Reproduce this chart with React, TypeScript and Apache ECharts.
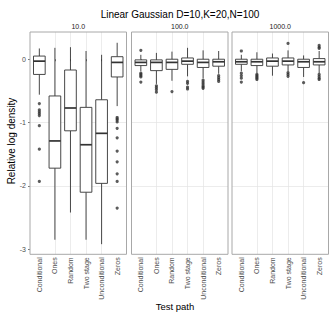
import React, { useEffect, useRef } from "react";
import * as echarts from "echarts";

const titleText = "Linear Gaussian D=10,K=20,N=100";
const xTitle = "Test path";
const yTitle = "Relative log density";
const categories = ["Conditional", "Ones", "Random", "Two stage", "Unconditional", "Zeros"];
const panelLabels = ["10.0", "100.0", "1000.0"];
const yTicks = [-3, -2, -1, 0];
const xTicks = [1, 2, 3, 4, 5, 6];

// [lower whisker, Q1, median, Q3, upper whisker]
const boxes10 = [
  [-0.56, -0.24, -0.03, 0.05, 0.17],
  [-2.85, -1.72, -1.29, -0.58, 0.18],
  [-2.42, -1.13, -0.77, -0.17, 0.19],
  [-2.85, -2.1, -1.35, -0.76, 0.13],
  [-2.92, -1.96, -1.17, -0.64, 0.07],
  [-0.74, -0.28, -0.05, 0.04, 0.26],
];
const outliers10 = [
  [-0.7, -0.8, -0.83, -0.86, -0.89, -1.05, -1.42, -1.93],
  [],
  [],
  [],
  [],
  [-0.92, -0.94, -0.96, -0.99, -1.09, -1.24, -1.45, -1.62, -1.81, -1.93, -2.35],
];
const boxes100 = [
  [-0.19, -0.1, -0.05, -0.01, 0.07],
  [-0.39, -0.18, -0.05, -0.01, 0.1],
  [-0.34, -0.16, -0.05, 0.0, 0.12],
  [-0.27, -0.08, -0.03, 0.02, 0.18],
  [-0.3, -0.13, -0.05, 0.0, 0.14],
  [-0.23, -0.11, -0.04, 0.0, 0.13],
];
const outliers100 = [
  [0.14, -0.22, -0.24, -0.26, -0.28, -0.36],
  [-0.42, -0.45, -0.48, -0.52],
  [-0.51],
  [-0.35, -0.38, -0.44, -0.47],
  [-0.33, -0.36, -0.39, -0.42, -0.44, -0.46],
  [-0.26, -0.29, -0.32, -0.35],
];
const boxes1000 = [
  [-0.19, -0.08, -0.04, 0.0, 0.07],
  [-0.22, -0.1, -0.04, 0.0, 0.11],
  [-0.26, -0.11, -0.03, 0.02, 0.09],
  [-0.19, -0.09, -0.03, 0.02, 0.14],
  [-0.28, -0.13, -0.04, 0.0, 0.06],
  [-0.22, -0.09, -0.04, 0.01, 0.13],
];
const outliers1000 = [
  [0.13, -0.22, -0.26, -0.3, -0.36],
  [-0.24, -0.26, -0.28, -0.3, -0.32],
  [],
  [0.25, -0.21, -0.24, -0.27],
  [-0.37],
  [0.17, 0.19, 0.22, -0.24, -0.27, -0.3, -0.32],
];

const panelBoxes = [boxes10, boxes100, boxes1000];
const panelOutliers = [outliers10, outliers100, outliers1000];

const W = 335;
const H = 318;
const panelLeft = [30, 131.5, 232];
const panelWidth = 96.5;
const panelTop = 32;
const panelHeight = 222.3;
const Y_MIN = -3.08;
const Y_MAX = 0.43;
const X_MIN = 0.4;
const X_MAX = 6.6;
const FONT = "Liberation Sans, Arial, Helvetica, sans-serif";
const BOX_COLOR = "#333333";
const GRID_COLOR = "#e4e4e4";

export default function App() {
  const ref = useRef<HTMLDivElement>(null);

  useEffect(() => {
    document.body.style.margin = "0";
    if (!ref.current) return;
    const chart = echarts.init(ref.current, null, { renderer: "svg" });

    const grids = panelLeft.map((l) => ({
      left: l,
      top: panelTop,
      width: panelWidth,
      height: panelHeight,
      show: false,
      containLabel: false,
      outerBoundsMode: "none",
    }));

    const xAxes = panelLeft.map((_, i) => ({
      type: "value",
      gridIndex: i,
      min: X_MIN,
      max: X_MAX,
      axisLine: { show: false },
      axisTick: {
        show: true,
        customValues: xTicks,
        length: 2,
        lineStyle: { color: "#555", width: 0.8 },
      },
      axisLabel: {
        customValues: xTicks,
        formatter: (v: number) => categories[Math.round(v) - 1] ?? "",
        rotate: 90,
        fontSize: 7,
        color: "#4d4d4d",
        margin: 3,
        fontFamily: FONT,
      },
      splitLine: {
        show: true,
        showMinLine: false,
        showMaxLine: false,
        lineStyle: { color: GRID_COLOR, width: 0.7 },
      },
    }));

    const yAxes = panelLeft.map((_, i) => ({
      type: "value",
      gridIndex: i,
      min: Y_MIN,
      max: Y_MAX,
      splitNumber: 7,
      axisLine: { show: false },
      axisTick: {
        show: i === 0,
        customValues: yTicks,
        length: 2,
        lineStyle: { color: "#555", width: 0.8 },
      },
      axisLabel: {
        show: i === 0,
        customValues: yTicks,
        formatter: (v: number) => String(v),
        fontSize: 7,
        color: "#4d4d4d",
        margin: 4,
        fontFamily: FONT,
      },
      splitLine: {
        show: true,
        showMinLine: false,
        showMaxLine: false,
        lineStyle: { color: GRID_COLOR, width: 0.7 },
      },
    }));

    const series: any[] = [];
    panelBoxes.forEach((boxes, i) => {
      series.push({
        type: "custom",
        xAxisIndex: i,
        yAxisIndex: i,
        z: 2,
        silent: true,
        encode: { x: 0, y: [1, 2, 3, 4, 5] },
        data: boxes.map((b, k) => [k + 1, ...b]),
        renderItem: (params: any, api: any) => {
          const x = api.value(0);
          const pLo = api.coord([x, api.value(1)]);
          const pQ1 = api.coord([x, api.value(2)]);
          const pMed = api.coord([x, api.value(3)]);
          const pQ3 = api.coord([x, api.value(4)]);
          const pHi = api.coord([x, api.value(5)]);
          const half = api.size([0.75, 0])[0] / 2;
          const ls = { stroke: BOX_COLOR, lineWidth: 0.9 };
          return {
            type: "group",
            children: [
              { type: "line", shape: { x1: pHi[0], y1: pHi[1], x2: pQ3[0], y2: pQ3[1] }, style: ls },
              { type: "line", shape: { x1: pQ1[0], y1: pQ1[1], x2: pLo[0], y2: pLo[1] }, style: ls },
              {
                type: "rect",
                shape: { x: pQ3[0] - half, y: pQ3[1], width: half * 2, height: pQ1[1] - pQ3[1] },
                style: { stroke: BOX_COLOR, lineWidth: 0.9, fill: "#ffffff" },
              },
              {
                type: "line",
                shape: { x1: pMed[0] - half, y1: pMed[1], x2: pMed[0] + half, y2: pMed[1] },
                style: { stroke: BOX_COLOR, lineWidth: 1.7 },
              },
            ],
          };
        },
      });
      const pts: number[][] = [];
      panelOutliers[i].forEach((arr, k) => arr.forEach((v) => pts.push([k + 1, v])));
      series.push({
        type: "scatter",
        xAxisIndex: i,
        yAxisIndex: i,
        z: 3,
        silent: true,
        symbol: "circle",
        symbolSize: 3.2,
        itemStyle: { color: BOX_COLOR },
        data: pts,
      });
    });

    const titles: any[] = [
      {
        text: titleText,
        left: 175,
        top: 4,
        textAlign: "center",
        textStyle: { fontSize: 10, fontWeight: "normal", color: "#000", fontFamily: FONT },
      },
    ];
    panelLeft.forEach((l, i) => {
      titles.push({
        text: panelLabels[i],
        left: l + panelWidth / 2,
        top: 23,
        padding: 0,
        textAlign: "center",
        textStyle: { fontSize: 7, fontWeight: "normal", color: "#1a1a1a", fontFamily: FONT },
      });
    });

    const graphics: any[] = [];
    panelLeft.forEach((l) => {
      graphics.push({
        type: "rect",
        silent: true,
        z: 100,
        shape: { x: l, y: panelTop, width: panelWidth, height: panelHeight },
        style: { fill: "transparent", stroke: "#a8a8a8", lineWidth: 1 },
      });
    });
    graphics.push({
      type: "text",
      silent: true,
      x: 175,
      y: 306.5,
      style: {
        text: xTitle,
        fontSize: 9.5,
        fontFamily: FONT,
        fill: "#000",
        align: "center",
        verticalAlign: "middle",
      },
    });
    graphics.push({
      type: "text",
      silent: true,
      x: 11,
      y: 141,
      rotation: Math.PI / 2,
      style: {
        text: yTitle,
        fontSize: 10,
        fontFamily: FONT,
        fill: "#000",
        align: "center",
        verticalAlign: "middle",
      },
    });

    chart.setOption({
      animation: false,
      title: titles,
      grid: grids,
      xAxis: xAxes,
      yAxis: yAxes,
      series,
      graphic: graphics,
    });

    return () => {
      chart.dispose();
    };
  }, []);

  return <div ref={ref} style={{ width: W, height: H }} />;
}
